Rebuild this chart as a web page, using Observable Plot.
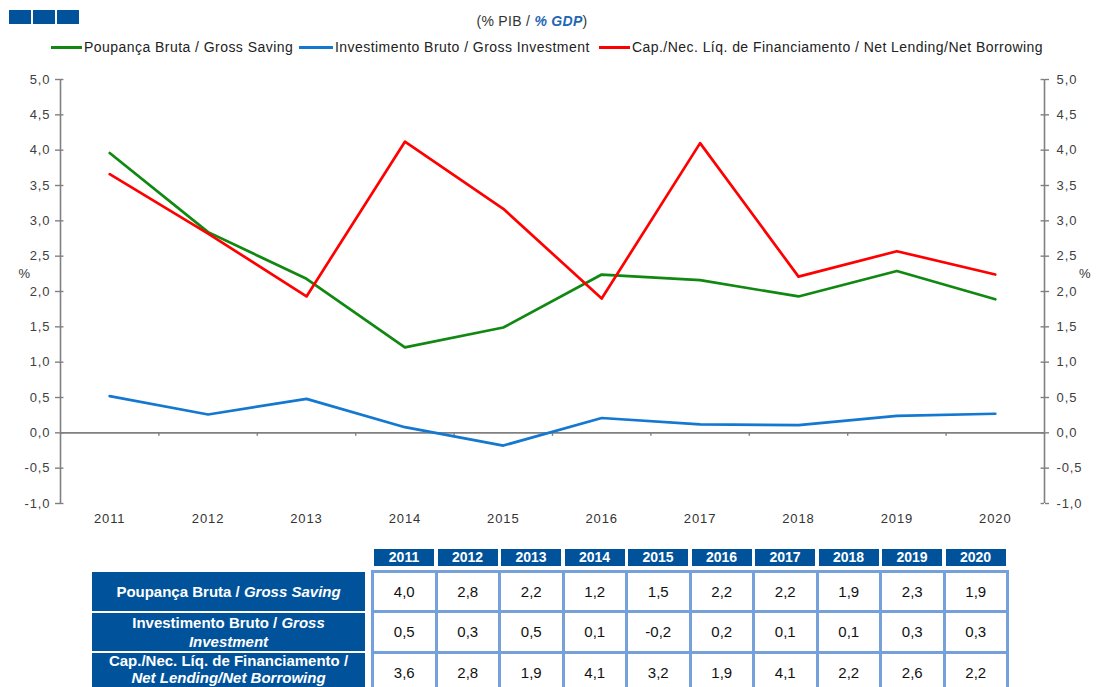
<!DOCTYPE html>
<html><head><meta charset="utf-8">
<script src="https://cdn.jsdelivr.net/npm/d3@7"></script>
<script src="https://cdn.jsdelivr.net/npm/@observablehq/plot@0.6"></script>
<style>
body{margin:0;background:#fff;font-family:"Liberation Sans",Arial,sans-serif;}
#page{position:relative;width:1099px;height:687px;overflow:hidden;background:#fff;}
.logo{position:absolute;top:10px;height:14px;width:22px;background:#00539b;}
#subtitle{position:absolute;top:13px;left:0;width:1064px;text-align:center;font-size:14px;color:#333;letter-spacing:0.3px;}
#subtitle b{color:#1f66b3;font-style:italic;}
.leg-line{position:absolute;top:46px;height:3px;}
.leg-text{position:absolute;top:39px;font-size:14px;color:#222;white-space:nowrap;letter-spacing:0.45px;}
#chart{position:absolute;left:0;top:58px;}
.hdr{position:absolute;top:549px;width:60px;height:17px;background:#00539b;color:#fff;font-weight:bold;font-size:14px;line-height:17px;text-align:center;}
.lbl{position:absolute;left:92px;width:273px;background:#00539b;color:#fff;font-weight:bold;font-size:15px;line-height:19px;text-align:center;display:flex;align-items:center;justify-content:center;box-sizing:border-box;padding:0 4px;overflow:hidden;}
.lbl.last{align-items:flex-start;line-height:16.5px;padding-top:0;}
#grid{position:absolute;left:371px;top:569.5px;border-collapse:collapse;}
#grid td{border:3px solid #76a0da;width:60.5px;height:37.5px;padding:0;text-align:center;font-size:15px;color:#111;}
</style></head><body>
<div id="page">
  <div class="logo" style="left:9px"></div>
  <div class="logo" style="left:33px"></div>
  <div class="logo" style="left:57px"></div>
  <div id="subtitle">(% PIB / <b>% GDP</b>)</div>
  <div id="legend"></div>
  <div id="chart"></div>
  <div id="table"></div>
</div>
<script>
// ---- data ----
const years = [2011, 2012, 2013, 2014, 2015, 2016, 2017, 2018, 2019, 2020];
const grossSaving     = [3.96, 2.84, 2.18, 1.21, 1.49, 2.24, 2.16, 1.93, 2.29, 1.89];
const grossInvestment = [0.52, 0.26, 0.48, 0.08, -0.18, 0.21, 0.12, 0.11, 0.24, 0.27];
const netLending      = [3.66, 2.82, 1.93, 4.12, 3.17, 1.90, 4.10, 2.21, 2.57, 2.24];

const tableSaving     = [4.0, 2.8, 2.2, 1.2, 1.5, 2.2, 2.2, 1.9, 2.3, 1.9];
const tableInvestment = [0.5, 0.3, 0.5, 0.1, -0.2, 0.2, 0.1, 0.1, 0.3, 0.3];
const tableLending    = [3.6, 2.8, 1.9, 4.1, 3.2, 1.9, 4.1, 2.2, 2.6, 2.2];

const seriesNames = ["Poupança Bruta / Gross Saving", "Investimento Bruto / Gross Investment", "Cap./Nec. Líq. de Financiamento  / Net Lending/Net Borrowing"];
const rowLabelsPt = ["Poupança Bruta / ", "Investimento Bruto / ", "Cap./Nec. Líq. de Financiamento / "];
const rowLabelsEn = ["Gross Saving", "Gross Investment", "Net Lending/Net Borrowing"];
const colors = ["#118811", "#1478d0", "#ff0000"];
const yTicks = [-1, -0.5, 0, 0.5, 1, 1.5, 2, 2.5, 3, 3.5, 4, 4.5, 5];

// ---- legend ----
const legendPos = [[51, 84], [299, 335], [599, 632]];
const legend = document.getElementById("legend");
seriesNames.forEach((name, i) => {
  const ln = document.createElement("div");
  ln.className = "leg-line";
  ln.style.left = legendPos[i][0] + "px";
  ln.style.width = (legendPos[i][1] - legendPos[i][0] - 2) + "px";
  ln.style.background = colors[i];
  legend.appendChild(ln);
  const tx = document.createElement("div");
  tx.className = "leg-text";
  tx.style.left = legendPos[i][1] + "px";
  tx.textContent = name;
  legend.appendChild(tx);
});

// ---- chart ----
const fmt = d => d.toFixed(1).replace(".", ",");
const xDomain = [years[0] - 0.5, years[years.length - 1] + 0.5];
const yDomain = [-1, 5];
const boundaries = years.slice(1).map(y => y - 0.5);
const mk = vals => years.map((y, i) => ({year: y, value: vals[i]}));
const axisStroke = "#808080";

const plot = Plot.plot({
  width: 1099,
  height: 480,
  marginLeft: 60,
  marginRight: 55,
  marginTop: 21,
  marginBottom: 35,
  x: {type: "linear", domain: xDomain},
  y: {domain: yDomain},
  style: {fontFamily: "'Liberation Sans', Arial, sans-serif", fontSize: "13px", letterSpacing: "0.9px", background: "transparent"},
  marks: [
    Plot.ruleY([0], {stroke: axisStroke, strokeWidth: 1.6}),
    Plot.ruleX(xDomain, {x: d => d, y1: yDomain[0], y2: yDomain[1], stroke: axisStroke, strokeWidth: 1.6}),
    Plot.ruleX(boundaries, {x: d => d, y1: 0, y2: -0.05, stroke: axisStroke, strokeWidth: 1.4}),
    Plot.ruleY(yTicks, {y: d => d, x1: xDomain[0], x2: xDomain[0] + 0.035, stroke: axisStroke, strokeWidth: 1.4}),
    Plot.ruleY(yTicks, {y: d => d, x1: xDomain[1] - 0.035, x2: xDomain[1], stroke: axisStroke, strokeWidth: 1.4}),
    Plot.axisY({anchor: "left", ticks: yTicks, tickFormat: fmt, tickSize: 5, tickPadding: 5, label: null, stroke: axisStroke, strokeWidth: 1.4, fill: "#404040", fontSize: 13}),
    Plot.axisY({anchor: "right", ticks: yTicks, tickFormat: fmt, tickSize: 4, tickPadding: 8, label: null, stroke: axisStroke, strokeWidth: 1.4, fill: "#404040", fontSize: 13}),
    Plot.axisX({ticks: years, tickFormat: d => String(d), tickSize: 0, tickPadding: 10, label: null, fill: "#333", fontSize: 13}),
    Plot.text(["%"], {frameAnchor: "left", dx: -42, dy: -18, fill: "#333", fontSize: 13}),
    Plot.text(["%"], {frameAnchor: "right", dx: 47, dy: -18, fill: "#333", fontSize: 13}),
    Plot.line(mk(grossSaving), {x: "year", y: "value", stroke: colors[0], strokeWidth: 2.7}),
    Plot.line(mk(grossInvestment), {x: "year", y: "value", stroke: colors[1], strokeWidth: 2.7}),
    Plot.line(mk(netLending), {x: "year", y: "value", stroke: colors[2], strokeWidth: 2.7})
  ]
});
document.getElementById("chart").appendChild(plot);

// ---- table ----
const tbl = document.getElementById("table");
years.forEach((y, i) => {
  const h = document.createElement("div");
  h.className = "hdr";
  h.style.left = (374 + i * 63.5) + "px";
  h.textContent = String(y);
  tbl.appendChild(h);
});
const rowTops = [572, 612.5, 653];
rowLabelsPt.forEach((pt, r) => {
  const c = document.createElement("div");
  c.className = "lbl" + (r === rowLabelsPt.length - 1 ? " last" : "");
  c.style.top = rowTops[r] + "px";
  c.style.height = "38.5px";
  const inner = document.createElement("div");
  inner.append(pt);
  // italic English part, one span per word so each stays on a single line
  rowLabelsEn[r].split(" ").forEach((w, k, arr) => {
    const it = document.createElement("i");
    it.textContent = w;
    inner.appendChild(it);
    if (k < arr.length - 1) inner.append(" ");
  });
  c.appendChild(inner);
  tbl.appendChild(c);
});
const grid = document.createElement("table");
grid.id = "grid";
[tableSaving, tableInvestment, tableLending].forEach(vals => {
  const tr = document.createElement("tr");
  vals.forEach(v => {
    const td = document.createElement("td");
    td.textContent = fmt(v);
    tr.appendChild(td);
  });
  grid.appendChild(tr);
});
tbl.appendChild(grid);
</script>
</body></html>
